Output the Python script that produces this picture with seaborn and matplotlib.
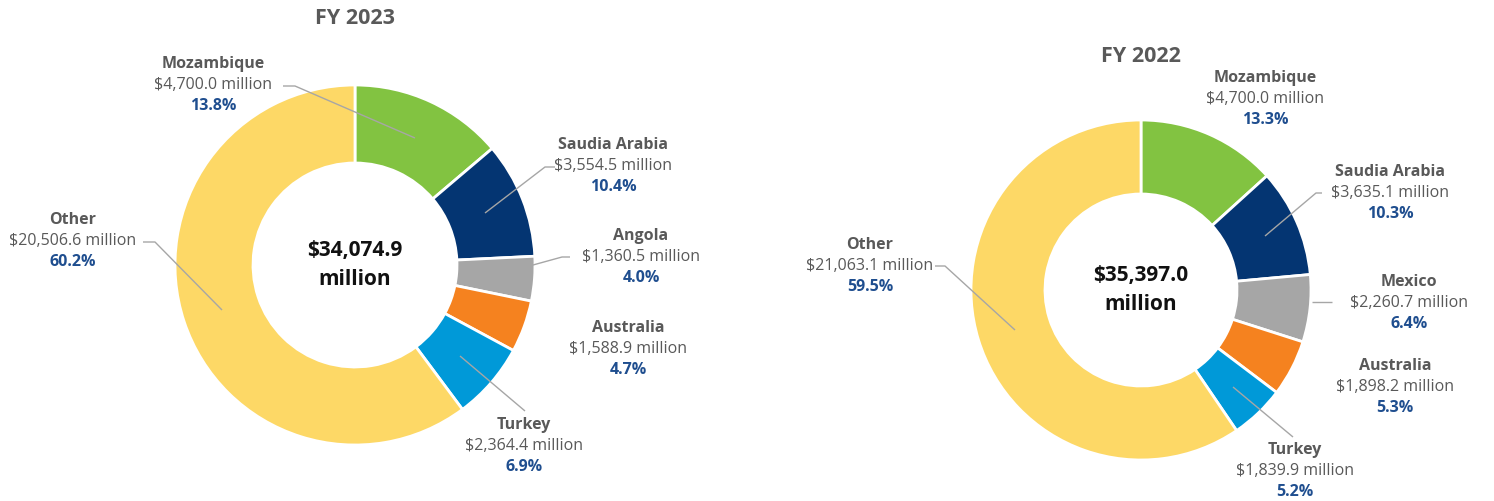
import matplotlib
matplotlib.use("Agg")
import matplotlib.pyplot as plt
import seaborn as sns

sns.set_theme(style="white")
plt.rcParams['font.family'] = ['Open Sans', 'DejaVu Sans']

# ---- data ----
countries_2023 = ["Mozambique", "Saudia Arabia", "Angola", "Australia", "Turkey", "Other"]
values_2023 = [4700.0, 3554.5, 1360.5, 1588.9, 2364.4, 20506.6]
pct_2023 = ["13.8%", "10.4%", "4.0%", "4.7%", "6.9%", "60.2%"]
total_2023 = "$34,074.9"

countries_2022 = ["Mozambique", "Saudia Arabia", "Mexico", "Australia", "Turkey", "Other"]
values_2022 = [4700.0, 3635.1, 2260.7, 1898.2, 1839.9, 21063.1]
pct_2022 = ["13.3%", "10.3%", "6.4%", "5.3%", "5.2%", "59.5%"]
total_2022 = "$35,397.0"

titles = ["FY 2023", "FY 2022"]
colors = ["#82C341", "#043572", "#A6A6A6", "#F5821F", "#0099D8", "#FDD866"]

W, H = 1494, 501
fig = plt.figure(figsize=(W / 100, H / 100), dpi=100)
ax = fig.add_axes([0, 0, 1, 1])

def Y(y):
    return H - y

GREY = "#595959"
BLUE = "#1F4E8F"
LINE = "#A6A6A6"
FS = 11.5

def draw(values, names, pcts, total, title, cx, cy, R, w, title_y, label_pos, leaders):
    ax.pie(values, colors=colors, startangle=90, counterclock=False,
           radius=R, center=(cx, Y(cy)),
           wedgeprops=dict(width=w, edgecolor="white", linewidth=2))
    ax.text(cx, Y(title_y), title, ha="center", va="center", fontsize=15.5,
            fontweight="bold", color=GREY)
    ax.text(cx, Y(cy), f"{total}\nmillion", ha="center", va="center",
            fontsize=15, fontweight="bold", color="#111111", linespacing=1.5)
    for i, (lx, ly) in enumerate(label_pos):
        ax.text(lx, Y(ly), names[i], ha="center", va="center", fontsize=FS,
                fontweight="bold", color=GREY)
        ax.text(lx, Y(ly + 21), f"${values[i]:,.1f} million", ha="center",
                va="center", fontsize=FS, color=GREY)
        ax.text(lx, Y(ly + 42), pcts[i], ha="center", va="center", fontsize=FS,
                fontweight="bold", color=BLUE)
    for pts in leaders:
        xs = [p[0] for p in pts]
        ys = [Y(p[1]) for p in pts]
        ax.plot(xs, ys, color=LINE, lw=1, solid_capstyle="butt")

draw(values_2023, countries_2023, pct_2023, total_2023, titles[0],
     355, 265, 180, 78, 18,
     [(213, 64), (613, 145), (641, 236), (628, 328), (524, 425), (73, 220)],
     [[(283, 86), (295, 86), (415, 138)],
      [(555, 167), (545, 167), (485, 213)],
      [(570, 257), (562, 257), (533, 265)],
      [(525, 411), (460, 356)],
      [(143, 242), (155, 242), (222, 310)]])

draw(values_2022, countries_2022, pct_2022, total_2022, titles[1],
     1141, 290, 170, 74, 56,
     [(1265, 78), (1390, 172), (1409, 282), (1395, 366), (1295, 450), (870, 245)],
     [[(1322, 193), (1316, 193), (1265, 236)],
      [(1332, 302), (1312, 302)],
      [(1293, 437), (1233, 387)],
      [(935, 266), (945, 266), (1015, 330)]])

ax.set_xlim(0, W)
ax.set_ylim(0, H)
ax.set_aspect("auto")
ax.axis("off")
fig.savefig("out.png", dpi=100, facecolor="white")
